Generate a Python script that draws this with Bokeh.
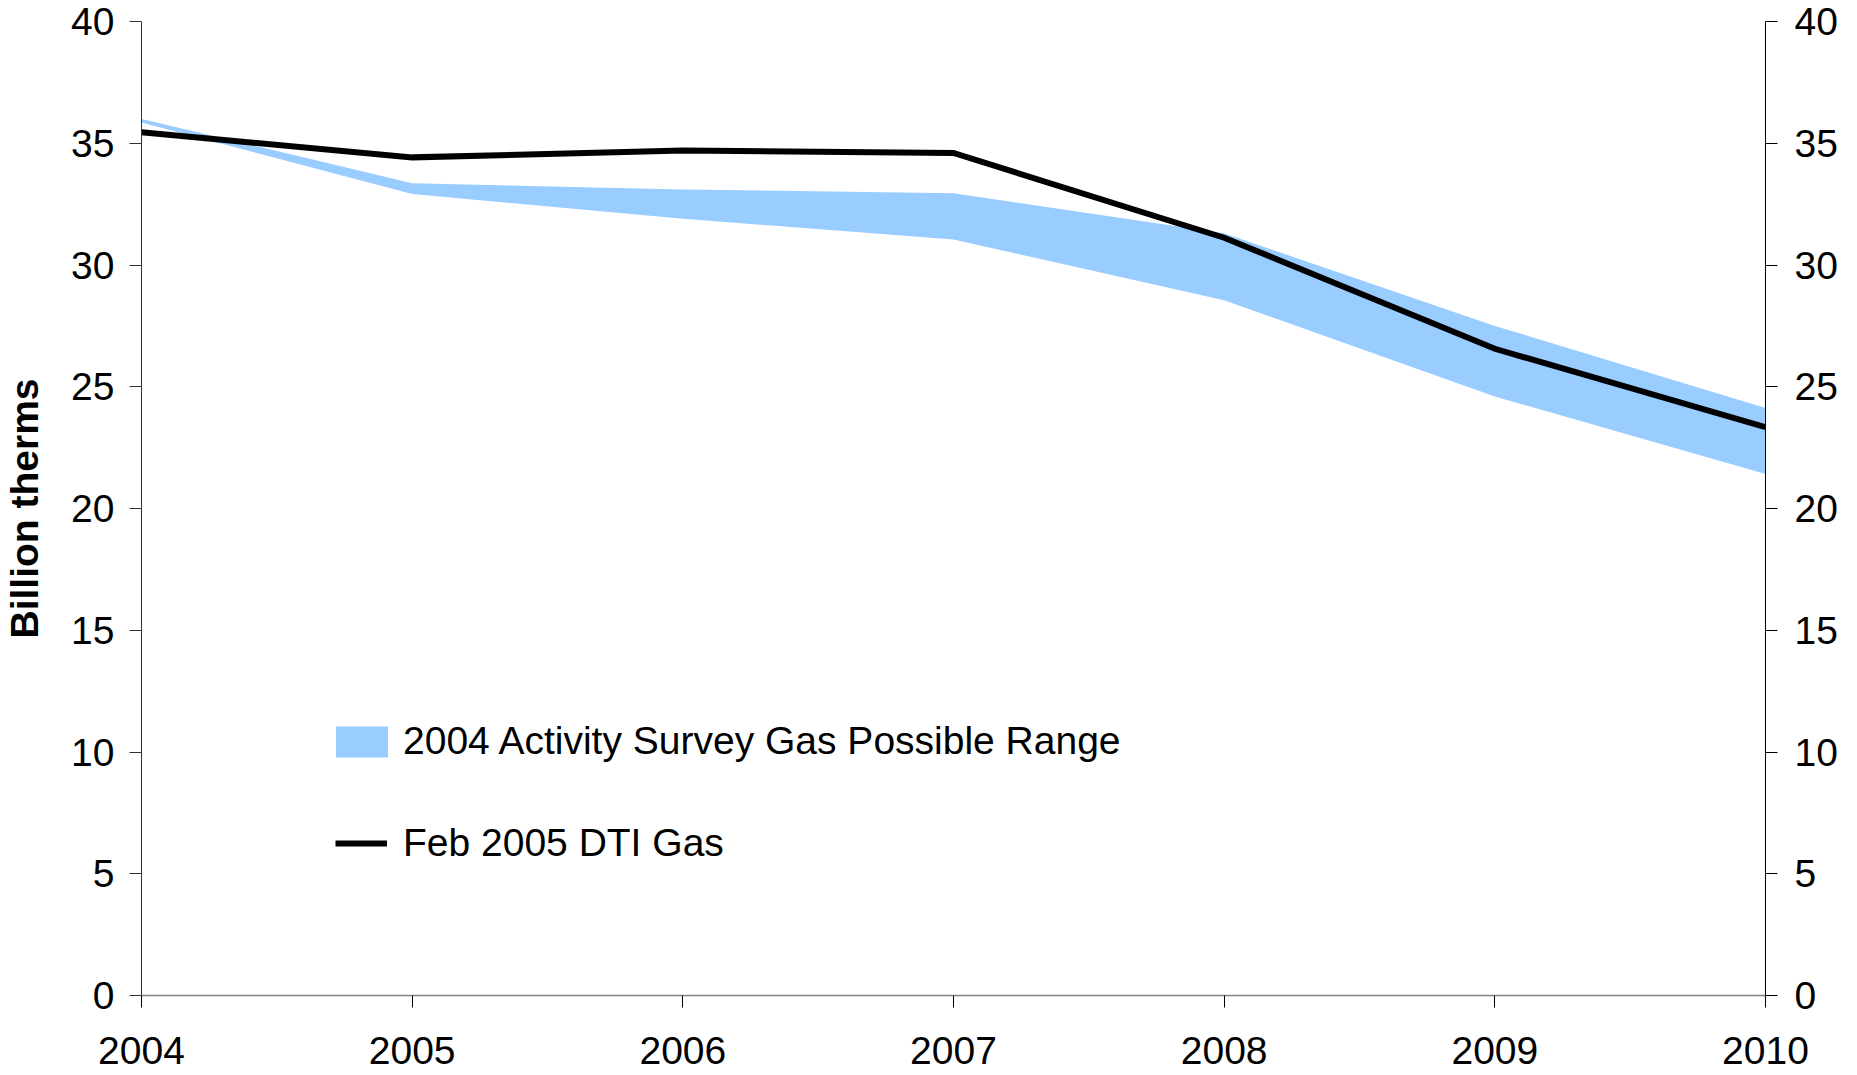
from bokeh.plotting import figure
from bokeh.models import (Range1d, LinearAxis, FixedTicker, Legend, LegendItem,
                          ColumnDataSource)
from bokeh.embed import file_html
from bokeh.resources import INLINE

# ---- data ----
years = [2004, 2005, 2006, 2007, 2008, 2009, 2010]
range_upper = [36.0, 33.36, 33.1, 32.95, 31.3, 27.5, 24.13]
range_lower = [35.85, 32.92, 31.9, 31.05, 28.55, 24.6, 21.42]
dti_gas = [35.45, 34.42, 34.7, 34.6, 31.12, 26.56, 23.34]
y_ticks = [0, 5, 10, 15, 20, 25, 30, 35, 40]
range_label = "2004 Activity Survey Gas Possible Range"
line_label = "Feb 2005 DTI Gas"
y_title = "Billion therms"

FONT = "Liberation Sans"
FS = "39px"

src = ColumnDataSource(dict(x=years, lo=range_lower, hi=range_upper, dti=dti_gas))

p = figure(width=1852, height=1075, output_backend="svg", toolbar_location=None,
           x_range=Range1d(2004, 2010), y_range=Range1d(0, 40),
           min_border_left=141, min_border_right=87, min_border_top=21,
           min_border_bottom=80, outline_line_color=None)
p.xgrid.visible = False
p.ygrid.visible = False

area = p.varea(x="x", y1="lo", y2="hi", source=src, fill_color="#99CCFF", fill_alpha=1.0)
line = p.line(x="x", y="dti", source=src, line_color="black", line_width=6,
              line_join="miter")

# axes
xa = p.xaxis[0]
xa.ticker = FixedTicker(ticks=years)
xa.axis_line_color = "#808080"
xa.axis_line_width = 1.5
xa.major_tick_line_color = "black"
xa.major_tick_in = 0
xa.major_tick_out = 12
xa.minor_tick_line_color = None
xa.major_label_standoff = 29
xa.major_label_text_font = FONT
xa.major_label_text_font_size = FS
xa.major_label_text_line_height = 0.6
xa.major_label_text_color = "black"

ya = p.yaxis[0]
ya.ticker = FixedTicker(ticks=y_ticks)
ya.axis_line_color = "#333333"
ya.major_tick_line_color = "#333333"
ya.major_tick_in = 0
ya.major_tick_out = 12
ya.minor_tick_line_color = None
ya.major_label_standoff = 15
ya.major_label_text_font = FONT
ya.major_label_text_font_size = FS
ya.major_label_text_color = "black"
ya.axis_label = y_title
ya.axis_label_text_font = FONT
ya.axis_label_text_font_size = FS
ya.axis_label_text_font_style = "bold"
ya.axis_label_text_color = "black"
ya.axis_label_standoff = 22

ra = LinearAxis(ticker=FixedTicker(ticks=y_ticks))
ra.axis_line_color = "black"
ra.major_tick_line_color = "black"
ra.major_tick_in = 0
ra.major_tick_out = 12
ra.minor_tick_line_color = None
ra.major_label_standoff = 17
ra.major_label_text_font = FONT
ra.major_label_text_font_size = FS
ra.major_label_text_color = "black"
p.add_layout(ra, "right")

common = dict(orientation="vertical", padding=0, margin=0,
              border_line_color=None, background_fill_alpha=0,
              label_text_font=FONT, label_text_font_size=FS,
              label_text_color="black")

legend1 = Legend(items=[LegendItem(label=range_label, renderers=[area])],
                 location=(188, 232), glyph_width=65, glyph_height=39,
                 label_standoff=9, **common)
legend2 = Legend(items=[LegendItem(label=line_label, renderers=[line])],
                 location=(194, 130), glyph_width=52, glyph_height=30,
                 label_standoff=16, **common)
p.add_layout(legend1)
p.add_layout(legend2)

open("out.html", "w").write(file_html(p, INLINE))
